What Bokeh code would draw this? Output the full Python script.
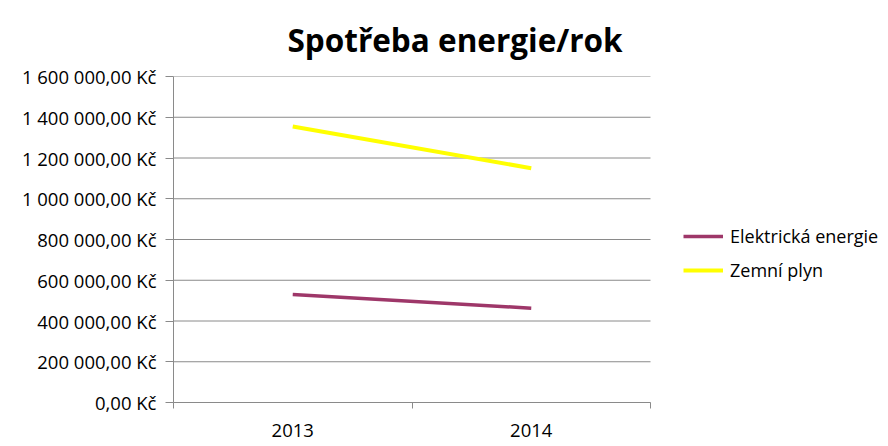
from bokeh.plotting import figure
from bokeh.models import Range1d, FixedTicker, Legend, LegendItem
from bokeh.embed import file_html
from bokeh.resources import INLINE

# ---- data ----
years = ["2013", "2014"]
elektricka_energie = [530000, 463000]
zemni_plyn = [1355000, 1150000]
series_names = ["Elektrická energie", "Zemní plyn"]
y_ticks = [0, 200000, 400000, 600000, 800000, 1000000, 1200000, 1400000, 1600000]
y_tick_labels = ["0,00 Kč", "200 000,00 Kč", "400 000,00 Kč", "600 000,00 Kč",
                 "800 000,00 Kč", "1 000 000,00 Kč", "1 200 000,00 Kč",
                 "1 400 000,00 Kč", "1 600 000,00 Kč"]
title_text = "Spotřeba energie/rok"

FONT = "Open Sans"
GRID = "#8a8a8a"

n = len(years)
x_pos = [i + 0.5 for i in range(n)]
x_bounds = [float(i) for i in range(n + 1)]

# plot area: categories occupy 477px of a 715px wide frame; the rest holds the legend
W, H = 888, 446
LEFT, TOP, BOTTOM = 173, 76, 44
cat_px = 477
frame_px = W - LEFT
x_max = n * frame_px / cat_px

p = figure(width=W, height=H, output_backend="svg", toolbar_location=None,
           x_range=Range1d(0, x_max), y_range=Range1d(y_ticks[0], y_ticks[-1]),
           min_border_left=LEFT, min_border_right=0, min_border_top=TOP,
           min_border_bottom=BOTTOM)
p.outline_line_color = None
p.background_fill_color = "white"
p.border_fill_color = "white"

# title
p.title.text = title_text
p.title.text_font = FONT
p.title.text_font_style = "bold"
p.title.text_font_size = "31.5px"
p.title.align = "left"
p.title.vertical_align = "top"
p.title.offset = 114
p.title.standoff = 28
p.title.text_color = "black"

# horizontal gridlines limited to the category area
p.segment(x0=[0] * len(y_ticks), x1=[n] * len(y_ticks), y0=y_ticks, y1=y_ticks,
          line_color=GRID, line_width=1)

# lines
r1 = p.line(x_pos, elektricka_energie, line_color="#9e3769", line_width=3.5)
r2 = p.line(x_pos, zemni_plyn, line_color="#ffff00", line_width=4)

# y axis
yt = FixedTicker(ticks=y_ticks)
p.yaxis.ticker = yt
p.yaxis.major_label_overrides = {t: l for t, l in zip(y_ticks, y_tick_labels)}
p.yaxis.major_tick_out = 8
p.yaxis.major_tick_in = 0
p.yaxis.minor_tick_out = 0
p.yaxis.minor_tick_in = 0
p.yaxis.major_label_standoff = 9
p.yaxis.axis_line_color = GRID
p.yaxis.major_tick_line_color = GRID
p.yaxis.major_label_text_font = FONT
p.yaxis.major_label_text_font_size = "18.5px"
p.yaxis.major_label_text_color = "black"

# x axis
xt = FixedTicker(ticks=x_pos, minor_ticks=x_bounds)
p.xaxis.ticker = xt
p.xaxis.bounds = (0, n)
p.xaxis.major_label_overrides = {x: y for x, y in zip(x_pos, years)}
p.xaxis.major_tick_out = 0
p.xaxis.major_tick_in = 0
p.xaxis.minor_tick_out = 6
p.xaxis.minor_tick_in = 0
p.xaxis.minor_tick_line_color = GRID
p.xaxis.axis_line_color = GRID
p.xaxis.major_label_standoff = 15
p.xaxis.major_label_text_font = FONT
p.xaxis.major_label_text_font_size = "18.5px"
p.xaxis.major_label_text_color = "black"

# grid
p.xgrid.visible = False
p.ygrid.visible = False

legend = Legend(items=[LegendItem(label=series_names[0], renderers=[r1]),
                       LegendItem(label=series_names[1], renderers=[r2])],
                location=(683 - LEFT, 120), border_line_color=None,
                background_fill_alpha=0, padding=0, margin=0, spacing=10,
                glyph_width=40, glyph_height=24, label_height=24,
                label_standoff=7, label_text_font=FONT,
                label_text_font_size="18px", label_text_color="black")
p.add_layout(legend)

open("out.html", "w").write(file_html(p, INLINE))
